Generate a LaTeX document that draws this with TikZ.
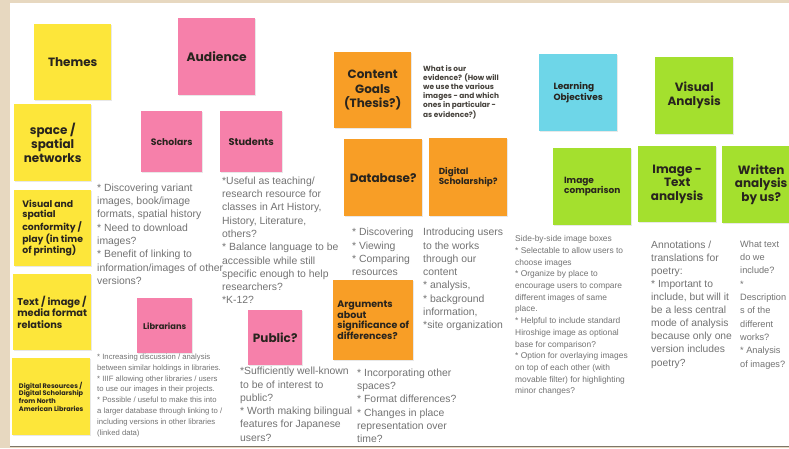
\documentclass[tikz,border=0pt]{standalone}
\usepackage{fontspec}
\setmainfont{Liberation Sans}
\newfontfamily\hd{Poppins}
\usetikzlibrary{shadows}
\definecolor{beige}{RGB}{231,216,192}
\definecolor{sy}{RGB}{253,230,58}
\definecolor{sp}{RGB}{246,128,170}
\definecolor{so}{RGB}{248,158,38}
\definecolor{sg}{RGB}{164,224,46}
\definecolor{sc}{RGB}{110,214,232}
\definecolor{ink}{RGB}{40,36,30}
\definecolor{body}{RGB}{115,115,115}
\tikzset{
  note/.style={anchor=north west, inner sep=2pt, align=center, text=ink,
    drop shadow={shadow xshift=0.6pt, shadow yshift=-1.2pt, opacity=0.18}},
  nbig/.style={font=\hd\bfseries\fontsize{12}{14}\selectfont},
  nmid/.style={font=\hd\bfseries\fontsize{9.3}{10.4}\selectfont},
  nsml/.style={font=\hd\bfseries\fontsize{9}{10.4}\selectfont},
  ntiny/.style={font=\hd\bfseries\fontsize{6.6}{7.8}\selectfont},
  txt/.style={anchor=north west, inner sep=0pt, align=left, text=body,
    font=\fontsize{10.4}{13.3}\selectfont},
  txts/.style={anchor=north west, inner sep=0pt, align=left, text=body,
    font=\fontsize{7.7}{10.9}\selectfont},
}
\begin{document}
\begin{tikzpicture}[x=1pt,y=-1pt]
\useasboundingbox (0,0) rectangle (789,448);
\fill[beige] (0,0) rectangle (789,448);
\fill[white] (10,3) rectangle (789,446);
\draw[line width=1.5pt, color={rgb,255:red,125;green,118;blue,104}] (10,446.5) -- (789,446.5);
\begin{scope}
\clip (0,0) rectangle (789,448);
% yellow column
\node[note, fill=sy, nbig, minimum width=77pt, minimum height=76pt] (themes) at (34,24) {Themes};
\node[note, fill=sy, nbig, minimum width=77pt, minimum height=77pt] (space) at (14,104) {space /\\spatial\\networks};
\node[note, fill=sy, nmid, minimum width=77pt, minimum height=76pt, align=left] (visual) at (14,190) {Visual and\\spatial\\conformity /\\play (in time\\of printing)};
\node[note, fill=sy, font=\hd\bfseries\fontsize{9.8}{11.4}\selectfont, minimum width=78pt, minimum height=76pt, align=left] (textimg) at (13,274) {Text / image /\\media format\\relations};
\node[note, fill=sy, ntiny, minimum width=78pt, minimum height=77pt, align=left] (digres) at (12,358) {Digital Resources /\\Digital Scholarship\\from North\\American Libraries};
% pink
\node[note, fill=sp, font=\hd\bfseries\fontsize{12.3}{14}\selectfont, minimum width=77pt, minimum height=77pt] (audience) at (178,18) {Audience};
\node[note, fill=sp, font=\hd\bfseries\fontsize{9.3}{10.4}\selectfont, minimum width=61pt, minimum height=61pt] (scholars) at (141,111) {Scholars};
\node[note, fill=sp, font=\hd\bfseries\fontsize{9.8}{11}\selectfont, minimum width=62pt, minimum height=61pt] (students) at (220,111) {Students};
\node[note, fill=sp, font=\hd\bfseries\fontsize{8.3}{10}\selectfont, minimum width=55pt, minimum height=55pt] (librarians) at (137,298) {Librarians};
\node[note, fill=sp, nbig, minimum width=54pt, minimum height=55pt] (public) at (248,310) {Public?};
% orange
\node[note, fill=so, font=\hd\bfseries\fontsize{12}{14.5}\selectfont, minimum width=77pt, minimum height=76pt] (content) at (334,52) {Content\\Goals\\(Thesis?)};
\node[note, fill=so, nbig, minimum width=78pt, minimum height=77pt] (database) at (344,139) {Database?};
\node[note, fill=so, font=\hd\bfseries\fontsize{8.8}{10.6}\selectfont, minimum width=78pt, minimum height=78pt, align=left] (digschol) at (429,138) {Digital\\Scholarship?};
\node[note, fill=so, font=\hd\bfseries\fontsize{9.5}{10.9}\selectfont, minimum width=80pt, minimum height=80pt, align=left] (args) at (333,280) {Arguments\\about\\significance of\\differences?};
% cyan / green
\node[note, fill=sc, nsml, minimum width=78pt, minimum height=77pt, align=left] (learning) at (539,54) {Learning\\Objectives};
\node[note, fill=sg, nbig, minimum width=78pt, minimum height=77pt] (visan) at (655,57) {Visual\\Analysis};
\node[note, fill=sg, nsml, minimum width=78pt, minimum height=77pt, align=left] (imgcomp) at (553,148) {Image\\comparison};
\node[note, fill=sg, font=\hd\bfseries\fontsize{12}{13.4}\selectfont, minimum width=78pt, minimum height=76pt] (imgtext) at (638,146) {Image -\\Text\\analysis};
\node[note, fill=sg, font=\hd\bfseries\fontsize{12}{13.4}\selectfont, minimum width=78pt, minimum height=77pt] (written) at (722,146) {Written\\analysis\\by us?};
% body texts
\node[txt] (tscholars) at (97,183.5) {* Discovering variant\\images, book/image\\formats, spatial history\\* Need to download\\images?\\* Benefit of linking to\\information/images of other\\versions?};
\node[txt] (tstudents) at (222,176.5) {*Useful as teaching/\\research resource for\\classes in Art History,\\History, Literature,\\others?\\* Balance language to be\\accessible while still\\specific enough to help\\researchers?\\*K-12?};
\node[txts] (tlibr) at (97,353.5) {* Increasing discussion / analysis\\between similar holdings in libraries.\\* IIIF allowing other libraries / users\\to use our images in their projects.\\* Possible / useful to make this into\\a larger database through linking to /\\including versions in other libraries\\(linked data)};
\node[txt] (tpublic) at (240,367) {*Sufficiently well-known\\to be of interest to\\public?\\* Worth making bilingual\\features for Japanese\\users?};
\node[anchor=north west, inner sep=0pt, align=left, text={rgb,255:red,70;green,66;blue,60}, font=\hd\bfseries\fontsize{7.4}{9.2}\selectfont] (tevid) at (423,65) {What is our\\evidence? (How will\\we use the various\\images - and which\\ones in particular -\\as evidence?)};
\node[txt] (tdb) at (352,228) {* Discovering\\* Viewing\\* Comparing\\resources};
\node[txt] (tds) at (423,228) {Introducing users\\to the works\\through our\\content\\* analysis,\\* background\\information,\\*site organization};
\node[txt] (targs) at (357,368.5) {* Incorporating other\\spaces?\\* Format differences?\\* Changes in place\\representation over\\time?};
\node[txts, font=\fontsize{8.4}{11.7}\selectfont] (tside) at (515,235.5) {Side-by-side image boxes\\* Selectable to allow users to\\choose images\\* Organize by place to\\encourage users to compare\\different images of same\\place.\\* Helpful to include standard\\Hiroshige image as optional\\base for comparison?\\* Option for overlaying images\\on top of each other (with\\movable filter) for highlighting\\minor changes?};
\node[txt, font=\fontsize{10.3}{13.1}\selectfont] (tann) at (651,240.5) {Annotations /\\translations for\\poetry:\\* Important to\\include, but will it\\be a less central\\mode of analysis\\because only one\\version includes\\poetry?};
\node[txt, font=\fontsize{9.2}{13.3}\selectfont] (twhat) at (740,240.5) {What text\\do we\\include?\\*\\Description\\s of the\\different\\works?\\* Analysis\\of images?};
\end{scope}
\end{tikzpicture}
\end{document}
